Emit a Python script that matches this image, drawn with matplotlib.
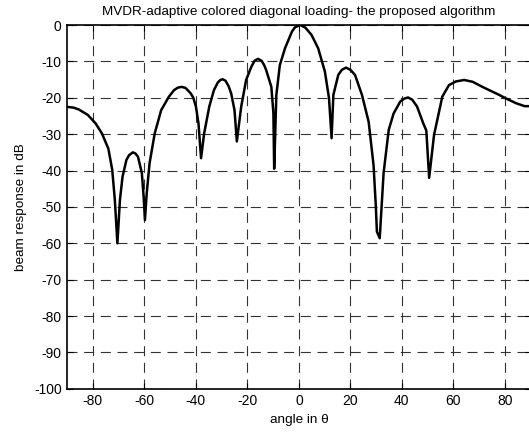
import matplotlib
matplotlib.use("Agg")
import matplotlib.pyplot as plt

plt.rcParams['font.family'] = ['Liberation Sans', 'DejaVu Sans']
plt.rcParams['axes.unicode_minus'] = False

# beam pattern (angle in degrees, response in dB)
angle = [-90, -87.5, -85.5, -82, -79, -76.5, -74, -72.5, -71.5, -70.5,
         -69.5, -68.5, -67, -66, -64.5, -63.5, -62.5, -61, -60.3, -59.8,
         -59.1, -58, -56, -53.5, -50.5, -48.5, -47, -45.5, -44, -42,
         -41, -40, -39, -38, -36.8, -34.8, -33, -31.5, -30.5, -29.6,
         -28.5, -27.3, -26.3, -25, -24.1, -22.4, -20.5, -18.5, -17.2, -15.9,
         -14.5, -13.5, -12.7, -10.7, -9.9, -9.6, -8.75, -7.4, -5.4, -2.7,
         -1.5, 0.5, 2.5, 4.9, 7.5, 10.1, 11.7, 12.7, 13.4, 15.3,
         16.7, 18.3, 20, 21.8, 24.5, 27.1, 29, 29.9, 30.3, 31.4,
         32.9, 34.9, 36.8, 39.4, 41, 42.4, 44, 45.9, 48.3, 49.5,
         50.6, 52.5, 55.7, 58.3, 61, 64.2, 67.5, 71.3, 77.8, 80.2,
         84.4, 87.7, 90]
response = [-22.5, -22.7, -23.2, -24.7, -27, -29.8, -34, -39.8, -48, -60,
            -48, -41.7, -37.1, -35.8, -35, -35.3, -36.2, -40.7, -47.2, -53.6,
            -46.2, -38, -29.8, -23.4, -19.7, -17.9, -17.2, -17, -17.3, -18.8,
            -20, -22.4, -27, -36.6, -29.8, -22.4, -17.9, -15.8, -15.1, -14.9,
            -15.3, -16.8, -18.8, -23.4, -32, -22.4, -15.1, -11.5, -9.8, -9.3,
            -9.8, -11, -12.4, -17, -24.2, -39.5, -19.2, -11, -6.4, -1.8,
            -0.6, 0, -0.7, -2.7, -6.4, -12.8, -20.1, -31.1, -19.2, -13.7,
            -12.3, -11.7, -12.3, -13.7, -19.2, -26.6, -38.5, -50, -56.8, -58.6,
            -40.7, -28.8, -24.3, -21, -20.2, -19.9, -20.5, -22.4, -27, -29,
            -42, -30.2, -19.7, -16.5, -15.5, -15.1, -15.6, -17, -19.2, -20.1,
            -21.5, -22.3, -22.3]

xticks = [-80, -60, -40, -20, 0, 20, 40, 60, 80]
yticks = [0, -10, -20, -30, -40, -50, -60, -70, -80, -90, -100]

fig = plt.figure(figsize=(5.29, 4.32), dpi=100)
ax = fig.add_axes([0.127, 0.100, 0.876, 0.842])

ax.plot(angle, response, color='black', lw=1.8)

ax.set_xlim(-90, 90)
ax.set_ylim(-100, 0)
ax.set_xticks(xticks)
ax.set_yticks(yticks)
ax.tick_params(direction='in', length=4, labelsize=10, top=True, right=True,
               width=0.8, pad=4)
ax.grid(True, color='#333333', lw=0.8, linestyle=(0, (9, 6)))
for s in ax.spines.values():
    s.set_linewidth(1.2)

ax.set_title('MVDR-adaptive colored diagonal loading- the proposed algorithm',
             fontsize=9.7, pad=7)
ax.set_xlabel('angle in θ', fontsize=9.7, labelpad=4)
ax.set_ylabel('beam response in dB', fontsize=9.7, labelpad=5)

fig.savefig('out.png', dpi=100)
